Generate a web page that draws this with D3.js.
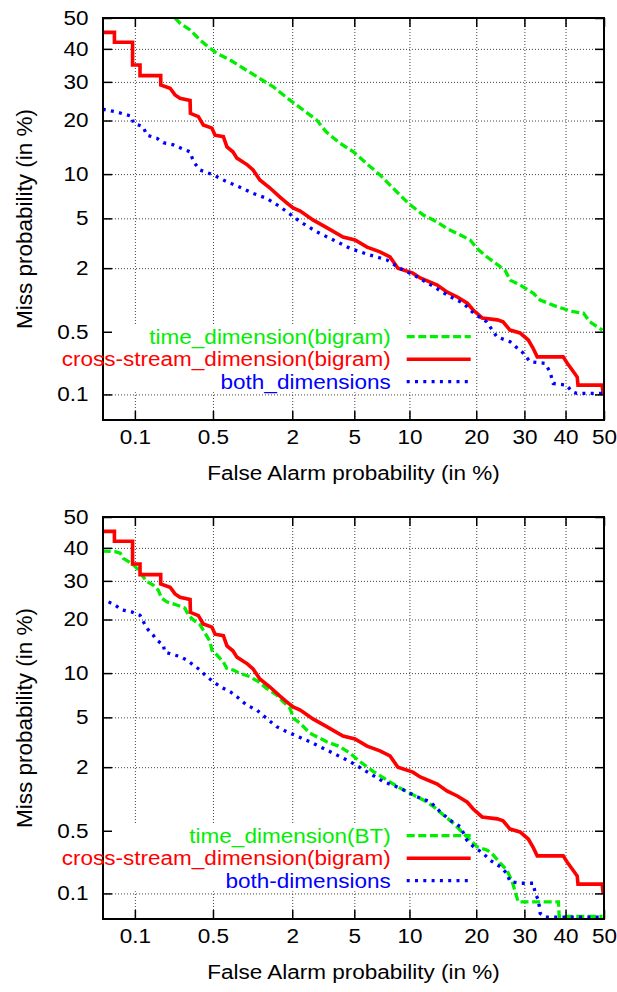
<!DOCTYPE html>
<html><head><meta charset="utf-8">
<script src="https://cdn.jsdelivr.net/npm/d3@7"></script>
<style>
body{margin:0;background:#fff}
svg{display:block}
text{font-family:"Liberation Sans",Arial,Helvetica,sans-serif}
</style></head><body>
<svg id="chart" width="617" height="992"></svg>
<script>
// ---------- data (percent) ----------
const tickValues = [0.1, 0.5, 2, 5, 10, 20, 30, 40, 50];
const tickLabels = ["0.1", "0.5", "2", "5", "10", "20", "30", "40", "50"];

// cross-stream_dimension(bigram) (same curve in both panels)
const crossFA = [0.048,0.063,0.063,0.095,0.095,0.112,0.112,0.175,0.175,0.213,0.236,0.261,0.320,0.322,0.377,0.415,0.49,0.52,0.608,0.65,0.725,0.78,0.94,1.04,1.17,1.39,1.64,1.84,2.03,2.27,2.76,3.41,4.28,5.05,5.93,7.0,7.93,8.73,10.4,11.3,13.6,15.1,16.7,18.4,19.4,21.1,24.1,25.3,26.8,29.0,30.9,32.0,33.0,39.4,40.4,41.7,43.0,43.2,49.5,49.8];
const crossMiss = [45.3,45.3,42.1,42.1,35.0,35.0,31.8,31.8,29.1,28.2,26.4,25.5,24.9,21.7,20.9,19.0,18.3,16.8,16.5,14.5,13.6,12.5,11.4,10.6,9.18,8.14,7.08,6.44,5.94,5.65,4.87,4.24,3.61,3.42,3.00,2.74,2.49,2.00,1.81,1.64,1.42,1.22,1.10,0.96,0.83,0.69,0.66,0.63,0.52,0.486,0.41,0.337,0.27,0.27,0.231,0.193,0.16,0.129,0.129,0.10];

// top panel: time_dimension(bigram)
const timeBigramFA = [0.236,0.261,0.32,0.39,0.473,0.537,0.69,0.875,1.11,1.47,1.93,2.38,2.92,3.36,4.1,4.94,5.9,7.0,8.1,9.87,11.7,13.5,15.0,17.2,18.9,20.1,22.0,24.7,25.7,26.8,29.0,32.1,33.7,37.8,42.0,44.6,46.3,49.6];
const timeBigramMiss = [50,48.3,46.1,42.8,40.2,38.6,36.5,34.0,31.5,28.6,25.0,22.5,20.1,17.5,15.2,13.6,11.6,9.88,8.3,6.41,5.29,4.72,4.21,3.74,3.42,2.93,2.5,2.06,1.93,1.57,1.42,1.19,1.03,0.89,0.795,0.77,0.63,0.52];

// top panel: both_dimensions
const bothTopFA = [0.048,0.064,0.093,0.097,0.12,0.13,0.161,0.185,0.228,0.27,0.32,0.342,0.39,0.504,0.648,0.825,1.04,1.31,1.64,2.04,2.27,2.92,3.73,4.72,5.9,7.63,8.97,10.9,13.1,15.5,17.7,19.5,22.0,24.0,26.8,29.8,31.3,34.9,36.1,36.9,40.3,41.6,42.9,49.9];
const bothTopMiss = [22.7,22.1,21.0,19.4,18.6,16.8,16.2,15.3,14.9,14.2,13.6,11.9,10.6,9.88,8.95,8.23,7.5,6.94,6.07,5.14,4.72,3.96,3.42,2.93,2.63,2.35,1.99,1.68,1.37,1.11,0.96,0.77,0.63,0.444,0.393,0.295,0.239,0.229,0.184,0.135,0.129,0.108,0.103,0.103];

// bottom panel: time_dimension(BT)
const timeBTFA = [0.048,0.064,0.072,0.077,0.087,0.097,0.108,0.12,0.13,0.149,0.166,0.179,0.199,0.244,0.289,0.31,0.342,0.39,0.43,0.473,0.49,0.537,0.608,0.648,0.73,0.825,0.985,1.14,1.31,1.55,1.73,1.93,2.04,2.27,2.64,3.39,4.1,4.72,5.4,6.44,7.63,8.97,10.5,11.7,13.1,14.5,16.1,17.7,18.9,20.1,22.0,23.0,24.7,26.1,26.8,27.5,27.9,28.6,38.2,38.4,49.6];
const timeBTMiss = [39.0,38.8,38.3,36.7,35.7,34.7,33.2,31.2,29.8,28.8,27.4,25.2,24.3,23.5,22.7,21.0,19.9,18.8,17.0,15.3,13.7,12.9,11.7,10.7,10.45,9.97,9.49,8.82,7.98,7.2,6.47,5.81,4.92,4.51,3.79,3.25,2.97,2.62,2.23,1.83,1.54,1.30,1.12,1.01,0.87,0.72,0.595,0.47,0.40,0.34,0.313,0.288,0.224,0.188,0.157,0.126,0.105,0.079,0.079,0.052,0.052];

// bottom panel: both-dimensions
const bothBotFA = [0.055,0.064,0.074,0.093,0.112,0.125,0.134,0.149,0.161,0.185,0.19,0.22,0.261,0.30,0.342,0.39,0.444,0.504,0.572,0.69,0.78,0.93,1.11,1.31,1.55,1.83,2.27,2.64,2.92,3.73,4.72,5.9,7.31,8.97,10.9,12.6,14.0,15.5,17.2,18.3,19.5,21.3,22.6,24.7,26.1,26.8,29.0,32.1,32.5,33.3,33.7,34.9,49.6];
const bothBotMiss = [24.3,23.5,22.3,21.8,21.0,18.8,17.7,16.6,15.6,14.7,13.4,13.0,12.6,12.0,11.2,10.45,9.49,8.82,8.18,7.57,7.0,6.13,5.65,4.92,4.26,3.9,3.51,3.25,3.06,2.62,2.23,1.83,1.49,1.30,1.08,0.97,0.78,0.64,0.55,0.40,0.34,0.288,0.243,0.205,0.172,0.138,0.132,0.132,0.10,0.083,0.057,0.051,0.051];

const legendTop = ["time_dimension(bigram)", "cross-stream_dimension(bigram)", "both_dimensions"];
const legendBottom = ["time_dimension(BT)", "cross-stream_dimension(bigram)", "both-dimensions"];

// ---------- probit (normal deviate) scale ----------
function probit(p) {
  const a=[-3.969683028665376e+01,2.209460984245205e+02,-2.759285104469687e+02,1.383577518672690e+02,-3.066479806614716e+01,2.506628277459239e+00];
  const b=[-5.447609879822406e+01,1.615858368580409e+02,-1.556989798598866e+02,6.680131188771972e+01,-1.328068155305798e+01];
  const c=[-7.784894002430293e-03,-3.223964580411365e-01,-2.400758277161838e+00,-2.549732539343734e+00,4.374664141464968e+00,2.938163982698783e+00];
  const d=[7.784695709041462e-03,3.224671290700398e-01,2.445134137142996e+00,3.754408661907416e+00];
  const plow=0.02425, phigh=1-plow;
  if (p <= 0) return -8; if (p >= 1) return 8;
  let q, r;
  if (p < plow) {
    q = Math.sqrt(-2*Math.log(p));
    return (((((c[0]*q+c[1])*q+c[2])*q+c[3])*q+c[4])*q+c[5])/((((d[0]*q+d[1])*q+d[2])*q+d[3])*q+1);
  } else if (p <= phigh) {
    q = p-0.5; r = q*q;
    return (((((a[0]*r+a[1])*r+a[2])*r+a[3])*r+a[4])*r+a[5])*q/(((((b[0]*r+b[1])*r+b[2])*r+b[3])*r+b[4])*r+1);
  } else {
    q = Math.sqrt(-2*Math.log(1-p));
    return -(((((c[0]*q+c[1])*q+c[2])*q+c[3])*q+c[4])*q+c[5])/((((d[0]*q+d[1])*q+d[2])*q+d[3])*q+1);
  }
}
function probitScale(dom, rng) {
  const lin = d3.scaleLinear().domain(dom.map(p => probit(p/100))).range(rng);
  function s(p) { return lin(probit(p/100)); }
  s.domain = () => dom.slice();
  s.range = () => rng.slice();
  s.copy = () => probitScale(dom, rng);
  return s;
}

// ---------- layout ----------
const svg = d3.select("#chart");
svg.append("rect").attr("width", 617).attr("height", 992).attr("fill", "#fff");
const L = 103, R = 604, PH = 402, FS = 19.5, STRETCH = 22.5 / 19.5, TICK = 9;
const FONT = '"Liberation Sans", Arial, Helvetica, sans-serif';
const RED = "#ff0000", GREEN = "#00ee00", BLUE = "#0000ff";
const zip = (a, b) => a.map((v, i) => [v, b[i]]);
// horizontally widened text (the reference glyphs are wider than tall)
function widen(sel) {
  sel.each(function () {
    const w = this.getComputedTextLength();
    d3.select(this).attr("textLength", w * STRETCH).attr("lengthAdjust", "spacingAndGlyphs");
  });
}

const panels = [
  { top: 18, legend: legendTop, series: [
      { fa: timeBigramFA, miss: timeBigramMiss, color: GREEN, dash: "8,3.6" },
      { fa: crossFA, miss: crossMiss, color: RED, dash: null },
      { fa: bothTopFA, miss: bothTopMiss, color: BLUE, dash: "3,5.3" } ] },
  { top: 517, legend: legendBottom, series: [
      { fa: timeBTFA, miss: timeBTMiss, color: GREEN, dash: "8,3.6" },
      { fa: crossFA, miss: crossMiss, color: RED, dash: null },
      { fa: bothBotFA, miss: bothBotMiss, color: BLUE, dash: "3,5.3" } ] }
];

const fmt = v => tickLabels[tickValues.indexOf(v)];

panels.forEach((pn, pi) => {
  const T = pn.top, B = T + PH;
  const x = probitScale([0.0483, 50], [L, R]);
  const y = probitScale([0.0483, 50], [B, T]);
  const g = svg.append("g");

  // grid
  const styleGrid = s => { s.select(".domain").remove();
    s.selectAll("line").attr("stroke", "#444").attr("stroke-width", 1).attr("stroke-dasharray", "1,2"); };
  g.append("g").attr("transform", `translate(0,${B})`)
    .call(d3.axisBottom(x).tickValues(tickValues).tickSize(-PH).tickFormat("")).call(styleGrid);
  g.append("g").attr("transform", `translate(${L},0)`)
    .call(d3.axisLeft(y).tickValues(tickValues).tickSize(-(R - L)).tickFormat("")).call(styleGrid);

  // legend background
  const rows = [T + 318.7, T + 341.2, T + 363.7];
  g.append("rect").attr("x", L + 1).attr("y", rows[0] - 12.5).attr("width", 476 - L - 1)
    .attr("height", rows[2] - rows[0] + 23).attr("fill", "#fff");

  // curves
  const cid = "clip" + pi;
  svg.append("clipPath").attr("id", cid).append("rect")
    .attr("x", L).attr("y", T).attr("width", R - L).attr("height", PH);
  const line = d3.line().x(d => x(d[0])).y(d => y(d[1]));
  const cg = g.append("g").attr("clip-path", `url(#${cid})`);
  pn.series.forEach(s => {
    cg.append("path").attr("d", line(zip(s.fa, s.miss))).attr("fill", "none")
      .attr("stroke", s.color).attr("stroke-width", s.dash ? 3.3 : 3.6)
      .attr("stroke-linejoin", "miter").attr("stroke-dasharray", s.dash);
  });

  // frame + ticks
  const styleAx = s => { s.select(".domain").remove();
    s.selectAll("line").attr("stroke", "#000").attr("stroke-width", 1.5);
    s.attr("font-size", FS).attr("font-family", FONT);
    s.selectAll("text").attr("fill", "#000").call(widen); };
  g.append("g").attr("transform", `translate(0,${B})`)
    .call(d3.axisBottom(x).tickValues(tickValues).tickSizeInner(-TICK).tickSizeOuter(0).tickPadding(10).tickFormat(fmt)).call(styleAx);
  g.append("g").attr("transform", `translate(0,${T})`)
    .call(d3.axisTop(x).tickValues(tickValues).tickSizeInner(-TICK).tickSizeOuter(0).tickFormat("")).call(styleAx);
  g.append("g").attr("transform", `translate(${L},0)`)
    .call(d3.axisLeft(y).tickValues(tickValues).tickSizeInner(-TICK).tickSizeOuter(0).tickPadding(14.5).tickFormat(fmt)).call(styleAx);
  g.append("g").attr("transform", `translate(${R},0)`)
    .call(d3.axisRight(y).tickValues(tickValues).tickSizeInner(-TICK).tickSizeOuter(0).tickFormat("")).call(styleAx);
  g.append("rect").attr("x", L).attr("y", T).attr("width", R - L).attr("height", PH)
    .attr("fill", "none").attr("stroke", "#000").attr("stroke-width", 2);

  // legend
  pn.series.forEach((s, i) => {
    g.append("text").attr("x", 390.7).attr("y", rows[i]).attr("dy", "0.35em")
      .attr("text-anchor", "end").attr("font-size", FS).attr("fill", s.color).text(pn.legend[i]).call(widen);
    g.append("line").attr("x1", 406.7).attr("x2", 470.7).attr("y1", rows[i]).attr("y2", rows[i])
      .attr("stroke", s.color).attr("stroke-width", s.dash ? 3.3 : 3.6).attr("stroke-dasharray", s.dash);
  });

  // axis titles
  g.append("text").attr("transform", `translate(32,${T + PH / 2}) rotate(-90)`)
    .attr("text-anchor", "middle").attr("font-size", 22.5).attr("fill", "#000").text("Miss probability (in %)");
  g.append("text").attr("x", (L + R) / 2).attr("y", B + 60).attr("text-anchor", "middle")
    .attr("font-size", FS).attr("fill", "#000").text("False Alarm probability (in %)").call(widen);
});
</script>
</body></html>
